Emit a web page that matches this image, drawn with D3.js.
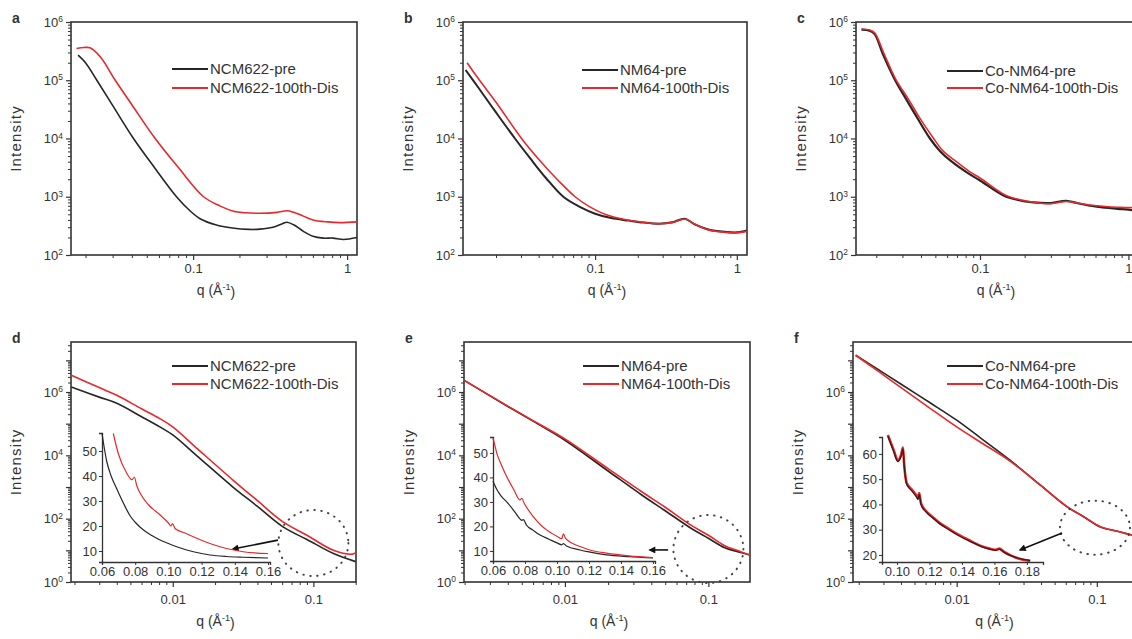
<!DOCTYPE html>
<html>
<head>
<meta charset="utf-8">
<title>SAXS curves</title>
<script src="https://d3js.org/d3.v7.min.js"></script>
<style>
  body { margin: 0; background: #fff; }
  svg text { font-family: "Liberation Sans", Arial, Helvetica, sans-serif; fill: #333; }
</style>
</head>
<body>
<svg id="fig" width="1132" height="639"></svg>
<script>
// ---------- data: [q (1/A), intensity] ----------
// top row: full q range
var aPre = [[0.0179,2.7e5],[0.020,2.0e5],[0.0237,1.0e5],[0.030,3.7e4],[0.041,1.0e4],[0.055,3.4e3],[0.078,1.0e3],[0.095,580],[0.111,420],[0.14,330],[0.18,290],[0.23,275],[0.272,278],[0.33,300],[0.38,345],[0.407,365],[0.45,330],[0.52,255],[0.6,210],[0.7,195],[0.81,195],[0.95,185],[1.16,200]];
var aDis = [[0.0175,3.5e5],[0.0195,3.65e5],[0.0214,3.6e5],[0.025,2.5e5],[0.0312,1.0e5],[0.04,3.8e4],[0.0567,1.0e4],[0.08,3.2e3],[0.117,1.0e3],[0.15,690],[0.183,565],[0.22,530],[0.272,520],[0.35,540],[0.407,575],[0.45,540],[0.52,465],[0.6,400],[0.75,370],[0.9,360],[1.16,370]];

var bPre = [[0.0122,1.5e5],[0.015,7.5e4],[0.02,2.8e4],[0.0272,1.0e4],[0.035,4.5e3],[0.045,2.1e3],[0.0597,1.0e3],[0.08,650],[0.1,510],[0.13,430],[0.172,390],[0.22,360],[0.28,345],[0.35,365],[0.43,420],[0.5,340],[0.63,275],[0.83,250],[1.0,245],[1.18,265]];
var bDis = [[0.0125,2.0e5],[0.015,1.07e5],[0.02,4.2e4],[0.0303,1.0e4],[0.04,4.4e3],[0.055,1.9e3],[0.0723,1.0e3],[0.09,690],[0.12,490],[0.172,395],[0.22,365],[0.28,345],[0.35,360],[0.43,415],[0.5,345],[0.63,270],[0.83,245],[1.0,240],[1.18,255]];

var cPre = [[0.0159,7.4e5],[0.018,7.1e5],[0.0195,6.2e5],[0.0223,2.7e5],[0.0268,1.0e5],[0.032,4.6e4],[0.038,2.2e4],[0.046,1.0e4],[0.054,6.0e3],[0.063,4.2e3],[0.08,2.7e3],[0.1,1.9e3],[0.144,1.05e3],[0.18,880],[0.229,800],[0.3,780],[0.38,850],[0.45,780],[0.55,700],[0.7,650],[0.85,620],[1.0,600],[1.16,560]];
var cDis = [[0.0159,7.6e5],[0.018,7.3e5],[0.0195,6.5e5],[0.0225,2.9e5],[0.027,1.05e5],[0.033,4.7e4],[0.039,2.3e4],[0.048,1.05e4],[0.056,6.2e3],[0.066,4.4e3],[0.085,2.7e3],[0.1,2.1e3],[0.15,1.05e3],[0.19,880],[0.24,790],[0.3,760],[0.38,830],[0.45,780],[0.55,720],[0.7,680],[0.85,660],[1.0,650],[1.16,660]];

// bottom row: low q range
var dPre = [[0.0019,1.45e6],[0.003,6.9e5],[0.004,4.4e5],[0.006,1.66e5],[0.0081,7.9e4],[0.01,4.4e4],[0.015,9.3e3],[0.0268,1.0e3],[0.04,245],[0.0608,55],[0.09,22],[0.139,7.9],[0.2,4.4]];
var dDis = [[0.0019,3.4e6],[0.003,1.38e6],[0.004,7.9e5],[0.006,2.95e5],[0.0081,1.45e5],[0.01,7.9e4],[0.015,1.6e4],[0.0268,1.66e3],[0.04,370],[0.0608,79],[0.09,30],[0.139,10],[0.19,7.6],[0.2,8.5]];

var ePre = [[0.002,2.3e6],[0.004,3.5e5],[0.006,1.2e5],[0.01,3.0e4],[0.02,3.2e3],[0.0343,560],[0.05,178],[0.0766,48],[0.1,24],[0.13,12],[0.16,9.1],[0.195,7.1]];
var eDis = [[0.002,2.3e6],[0.004,3.6e5],[0.006,1.25e5],[0.01,3.3e4],[0.02,3.8e3],[0.0343,710],[0.05,230],[0.0766,60],[0.1,30],[0.13,14],[0.16,9.8],[0.195,7.1]];

var fPre = [[0.0019,1.45e7],[0.0028,4.9e6],[0.00394,1.86e6],[0.0065,4.5e5],[0.01,1.29e5],[0.015,3.4e4],[0.024,7.1e3],[0.04,1.1e3],[0.061,240],[0.08,117],[0.106,55],[0.14,40],[0.179,30],[0.2,26]];
var fDis = [[0.0019,1.45e7],[0.0028,4.3e6],[0.00394,1.45e6],[0.0065,3.0e5],[0.01,7.9e4],[0.015,2.5e4],[0.024,6.6e3],[0.04,1.1e3],[0.061,245],[0.08,118],[0.106,56],[0.14,40],[0.179,30],[0.2,26]];

// insets (linear axes)
var dInPre = [[0.06,57],[0.0628,46],[0.0655,40],[0.0688,35],[0.073,29],[0.077,24],[0.08,21.5],[0.085,18.4],[0.09,16.2],[0.095,14.4],[0.1,13],[0.105,11.7],[0.115,9.7],[0.125,8.4],[0.135,7.8],[0.145,7.5],[0.16,7.2]];
var dInDis = [[0.0668,57],[0.0698,49],[0.075,41],[0.078,38.5],[0.0795,39.5],[0.081,36],[0.0831,33],[0.088,28.5],[0.095,24.4],[0.1,21.2],[0.1015,20],[0.1025,21],[0.104,19],[0.11,17.2],[0.115,15.7],[0.125,13],[0.135,11],[0.145,9.7],[0.16,9]];

var eInPre = [[0.06,38.5],[0.0625,35],[0.065,32.5],[0.0686,30],[0.073,26.5],[0.077,23],[0.078,22.5],[0.079,22.8],[0.081,20.5],[0.085,18.5],[0.0894,16.5],[0.095,14.8],[0.1,13.3],[0.103,12.5],[0.104,13],[0.106,12],[0.1144,10.4],[0.12,9.6],[0.131,8.4],[0.145,7.7],[0.16,7.2]];
var eInDis = [[0.06,56],[0.0612,53],[0.0623,50],[0.065,45.5],[0.0686,40.3],[0.073,35],[0.0769,30.8],[0.078,31.5],[0.0795,29.5],[0.0852,24],[0.09,20.5],[0.0935,18.6],[0.1,16],[0.103,15],[0.104,17],[0.1055,15],[0.1144,11.8],[0.12,10.5],[0.131,9.1],[0.145,8],[0.16,7.3]];

var fInPre = [[0.0944,67],[0.098,61],[0.1005,57],[0.1025,59],[0.1037,62],[0.1045,55],[0.106,48],[0.109,45.5],[0.112,43],[0.113,42],[0.1137,44],[0.1148,40],[0.118,37],[0.1214,35],[0.126,32.5],[0.132,30],[0.137,28],[0.142,26.3],[0.147,24.8],[0.152,23.3],[0.157,22.3],[0.161,21.8],[0.163,22.3],[0.166,21],[0.17,19.7],[0.173,19],[0.177,18.3],[0.182,17.8]];
var fInDis = [[0.0944,67.5],[0.098,61.5],[0.1005,57.5],[0.1025,59.5],[0.1037,62.5],[0.1045,55.5],[0.106,48.5],[0.109,46],[0.112,43.5],[0.113,42.5],[0.1137,44.5],[0.1148,40.5],[0.118,37.3],[0.1214,35.3],[0.126,32.8],[0.132,30.3],[0.137,28.3],[0.142,26.6],[0.147,25],[0.152,23.5],[0.157,22.5],[0.161,22],[0.163,22.5],[0.166,21.2],[0.17,19.8],[0.173,19],[0.177,18.2],[0.182,17.6]];

// tick labels
var topXLabels = [0.1, 1];
var bottomXLabels = [0.01, 0.1];
var topYLabels = [1e2, 1e3, 1e4, 1e5, 1e6];
var bottomYLabels = [1e0, 1e2, 1e4, 1e6];
var insetXTicksDE = [0.06, 0.08, 0.10, 0.12, 0.14, 0.16];
var insetYTicksDE = [10, 20, 30, 40, 50];
var insetXTicksF = [0.10, 0.12, 0.14, 0.16, 0.18];
var insetYTicksF = [20, 30, 40, 50, 60];

var legendNCM = ["NCM622-pre", "NCM622-100th-Dis"];
var legendNM = ["NM64-pre", "NM64-100th-Dis"];
var legendCo = ["Co-NM64-pre", "Co-NM64-100th-Dis"];

// ---------- layout ----------
var colPre = "#262626", colDis = "#e8282b", axisCol = "#333";

var panels = [
  {id:"a", x0:71, x1:357, y0:22, y1:255, xd:[0.0161,1.16], yd:[1e2,1e6], pre:aPre, dis:aDis, leg:legendNCM, legX:101, legY:[47,66], xl:topXLabels, yl:topYLabels, lblDy:16},
  {id:"b", x0:463, x1:747, y0:22, y1:255, xd:[0.0117,1.18], yd:[1e2,1e6], pre:bPre, dis:bDis, leg:legendNM, legX:119, legY:[48,66], xl:topXLabels, yl:topYLabels, lblDy:16, preW:2},
  {id:"c", x0:856, x1:1138, y0:22, y1:255, xd:[0.0146,1.16], yd:[1e2,1e6], pre:cPre, dis:cDis, leg:legendCo, legX:91, legY:[49,66], xl:topXLabels, yl:topYLabels, lblDy:16, preW:2.2},
  {id:"d", x0:71, x1:356, y0:342, y1:582, xd:[0.00189,0.201], yd:[1,3.8e7], pre:dPre, dis:dDis, leg:legendNCM, legX:101, legY:[24,42], xl:bottomXLabels, yl:bottomYLabels, lblDy:20,
    inset:{x0:102, x1:270, y0:433, y1:562, xd:[0.06,0.1612], yd:[5.6,57.2], pre:dInPre, dis:dInDis, xt:insetXTicksDE, yt:insetYTicksDE, fmt:".2f"},
    ring:{q:0.1, I:17, rx:35, ry:33}, arrow:[[0.056,21],[0.0268,11]]},
  {id:"e", x0:464, x1:750, y0:342, y1:582, xd:[0.00198,0.195], yd:[1,3.8e7], pre:ePre, dis:eDis, leg:legendNM, legX:119, legY:[24,42], xl:bottomXLabels, yl:bottomYLabels, lblDy:20,
    inset:{x0:493, x1:655, y0:437, y1:561, xd:[0.06,0.1613], yd:[5.9,56.5], pre:eInPre, dis:eInDis, xt:insetXTicksDE, yt:insetYTicksDE, fmt:".2f"},
    ring:{q:0.1, I:11, rx:35, ry:34}, arrow:[[0.0524,10.3],[0.039,10.3]]},
  {id:"f", x0:853, x1:1139, y0:342, y1:582, xd:[0.00182,0.2], yd:[1,3.8e7], pre:fPre, dis:fDis, leg:legendCo, legX:94, legY:[24,42], xl:bottomXLabels, yl:bottomYLabels, lblDy:20,
    inset:{x0:882, x1:1043, y0:437, y1:562, xd:[0.0908,0.1899], yd:[17.2,66.7], pre:fInPre, dis:fInDis, xt:insetXTicksF, yt:insetYTicksF, fmt:".2f", disUnder:true},
    ring:{q:0.097, I:52, rx:35, ry:27}, arrow:[[0.0565,35],[0.0283,10.3]]}
];

var svg = d3.select("#fig");
svg.append("defs").append("marker")
  .attr("id", "arrowHead").attr("viewBox", "0 0 10 10")
  .attr("refX", 8).attr("refY", 5)
  .attr("markerWidth", 9).attr("markerHeight", 7)
  .attr("markerUnits", "userSpaceOnUse")
  .attr("orient", "auto")
  .append("path").attr("d", "M0,0 L10,5 L0,10 Z").attr("fill", "#111");

function isDecade(v) {
  var l = Math.log10(v);
  return Math.abs(l - Math.round(l)) < 1e-6;
}

// 10^n as text with a superscript
function powerLabel(textSel) {
  textSel.each(function(d) {
    var t = d3.select(this);
    t.text(null);
    t.append("tspan").text("10");
    t.append("tspan").attr("dy", "-0.55em").attr("font-size", "0.65em").text(Math.round(Math.log10(d)));
  });
}

function drawPanel(p) {
  var g = svg.append("g");
  var x = d3.scaleLog().domain(p.xd).range([p.x0, p.x1]);
  var y = d3.scaleLog().domain(p.yd).range([p.y1, p.y0]);

  svg.append("clipPath").attr("id", "clip-" + p.id)
    .append("rect").attr("x", p.x0).attr("y", p.y0)
    .attr("width", p.x1 - p.x0).attr("height", p.y1 - p.y0);

  // x ticks (outward)
  var xt = x.ticks();
  var xMinor = xt.filter(function(v){ return !isDecade(v); });
  var xMajor = xt.filter(isDecade);
  g.append("g").attr("transform", "translate(0," + p.y1 + ")")
    .call(d3.axisBottom(x).tickValues(xMinor).tickSize(3).tickFormat(""))
    .call(function(s){ s.select(".domain").remove(); s.selectAll("line").attr("stroke", axisCol); });
  var xa = g.append("g").attr("transform", "translate(0," + p.y1 + ")")
    .call(d3.axisBottom(x).tickValues(xMajor).tickSize(5).tickPadding(p.lblDy - 12)
      .tickFormat(function(v){ return p.xl.indexOf(+v.toPrecision(3)) >= 0 ? (v >= 1 ? "1" : String(+v.toPrecision(3))) : ""; }));
  xa.select(".domain").remove();
  xa.selectAll("line").attr("stroke", axisCol).attr("stroke-width", 1.2);
  xa.selectAll("text").attr("font-size", 13).attr("fill", "#333").attr("font-family", null);

  // y ticks (outward)
  var yt = y.ticks();
  var yMinor = yt.filter(function(v){ return !isDecade(v); });
  var yMajor = yt.filter(isDecade);
  g.append("g").attr("transform", "translate(" + p.x0 + ",0)")
    .call(d3.axisLeft(y).tickValues(yMinor).tickSize(3).tickFormat(""))
    .call(function(s){ s.select(".domain").remove(); s.selectAll("line").attr("stroke", axisCol); });
  var ya = g.append("g").attr("transform", "translate(" + p.x0 + ",0)")
    .call(d3.axisLeft(y).tickValues(yMajor).tickSize(5).tickPadding(3).tickFormat(""));
  ya.select(".domain").remove();
  ya.selectAll("line").attr("stroke", axisCol).attr("stroke-width", 1.2);
  ya.selectAll(".tick").filter(function(d){ return p.yl.some(function(v){ return Math.abs(v - d) / v < 1e-6; }); })
    .select("text").attr("font-size", 13).attr("fill", "#333").attr("font-family", null)
    .call(powerLabel);

  // frame
  g.append("rect").attr("x", p.x0).attr("y", p.y0)
    .attr("width", p.x1 - p.x0).attr("height", p.y1 - p.y0)
    .attr("fill", "none").attr("stroke", axisCol).attr("stroke-width", 1.6);

  // curves
  var line = d3.line().x(function(d){ return x(d[0]); }).y(function(d){ return y(d[1]); })
    .curve(d3.curveCatmullRom.alpha(0.5));
  var cg = g.append("g").attr("clip-path", "url(#clip-" + p.id + ")");
  cg.append("path").datum(p.pre).attr("d", line).attr("fill", "none")
    .attr("stroke", colPre).attr("stroke-width", p.preW || 1.6);
  cg.append("path").datum(p.dis).attr("d", line).attr("fill", "none")
    .attr("stroke", colDis).attr("stroke-width", 1.6);

  // legend
  [colPre, colDis].forEach(function(c, i) {
    var ly = p.y0 + p.legY[i];
    g.append("line").attr("x1", p.x0 + p.legX).attr("x2", p.x0 + p.legX + 36)
      .attr("y1", ly).attr("y2", ly).attr("stroke", c).attr("stroke-width", 2);
    g.append("text").attr("x", p.x0 + p.legX + 38).attr("y", ly).attr("dy", "0.35em")
      .attr("font-size", 15).text(p.leg[i]);
  });

  // panel letter and axis titles
  g.append("text").attr("x", p.x0 - 59).attr("y", p.y0 + 1)
    .attr("font-size", 14).attr("font-weight", "bold").text(p.id);
  g.append("text")
    .attr("transform", "translate(" + (p.x0 - 50) + "," + ((p.y0 + p.y1) / 2) + ") rotate(-90)")
    .attr("text-anchor", "middle").attr("font-size", 15).attr("letter-spacing", 1.2).text("Intensity");
  var xt2 = g.append("text").attr("x", (p.x0 + Math.min(p.x1, 1132)) / 2 + 2).attr("y", p.y1 + p.lblDy + 24)
    .attr("text-anchor", "middle").attr("font-size", 14);
  xt2.append("tspan").text("q (Å");
  xt2.append("tspan").attr("dy", "-0.5em").attr("font-size", "0.65em").text("-1");
  xt2.append("tspan").attr("dy", "0.5em").text(")");

  if (p.inset) drawInset(p.inset);

  if (p.ring) {
    g.append("ellipse").attr("cx", x(p.ring.q)).attr("cy", y(p.ring.I))
      .attr("rx", p.ring.rx).attr("ry", p.ring.ry)
      .attr("fill", "none").attr("stroke", "#444").attr("stroke-width", 2)
      .attr("stroke-dasharray", "0.5,6.5").attr("stroke-linecap", "round");
  }
  if (p.arrow) {
    g.append("line")
      .attr("x1", x(p.arrow[0][0])).attr("y1", y(p.arrow[0][1]))
      .attr("x2", x(p.arrow[1][0])).attr("y2", y(p.arrow[1][1]))
      .attr("stroke", "#111").attr("stroke-width", 1.6)
      .attr("marker-end", "url(#arrowHead)");
  }
}

function drawInset(s) {
  var g = svg.append("g");
  var x = d3.scaleLinear().domain(s.xd).range([s.x0, s.x1]);
  var y = d3.scaleLinear().domain(s.yd).range([s.y1, s.y0]);

  var xa = g.append("g").attr("transform", "translate(0," + s.y1 + ")")
    .call(d3.axisBottom(x).tickValues(s.xt).tickSize(3).tickPadding(2).tickFormat(d3.format(s.fmt)));
  var ya = g.append("g").attr("transform", "translate(" + s.x0 + ",0)")
    .call(d3.axisLeft(y).tickValues(s.yt).tickSize(3).tickPadding(2).tickFormat(d3.format("d")));
  [xa, ya].forEach(function(a) {
    a.select(".domain").attr("stroke", axisCol).attr("stroke-width", 1.3);
    a.selectAll("line").attr("stroke", axisCol);
    a.selectAll("text").attr("font-size", 13).attr("fill", "#333").attr("font-family", null);
  });

  var line = d3.line().x(function(d){ return x(d[0]); }).y(function(d){ return y(d[1]); })
    .curve(d3.curveMonotoneX);
  if (s.disUnder) {
    g.append("path").datum(s.dis).attr("d", line).attr("fill", "none")
      .attr("stroke", colDis).attr("stroke-width", 2.6);
    g.append("path").datum(s.pre).attr("d", line).attr("fill", "none")
      .attr("stroke", "#3a1a1a").attr("stroke-width", 1.3);
  } else {
    g.append("path").datum(s.pre).attr("d", line).attr("fill", "none")
      .attr("stroke", colPre).attr("stroke-width", 1.2);
    g.append("path").datum(s.dis).attr("d", line).attr("fill", "none")
      .attr("stroke", colDis).attr("stroke-width", 1.2);
  }
}

panels.forEach(drawPanel);
</script>
</body>
</html>
